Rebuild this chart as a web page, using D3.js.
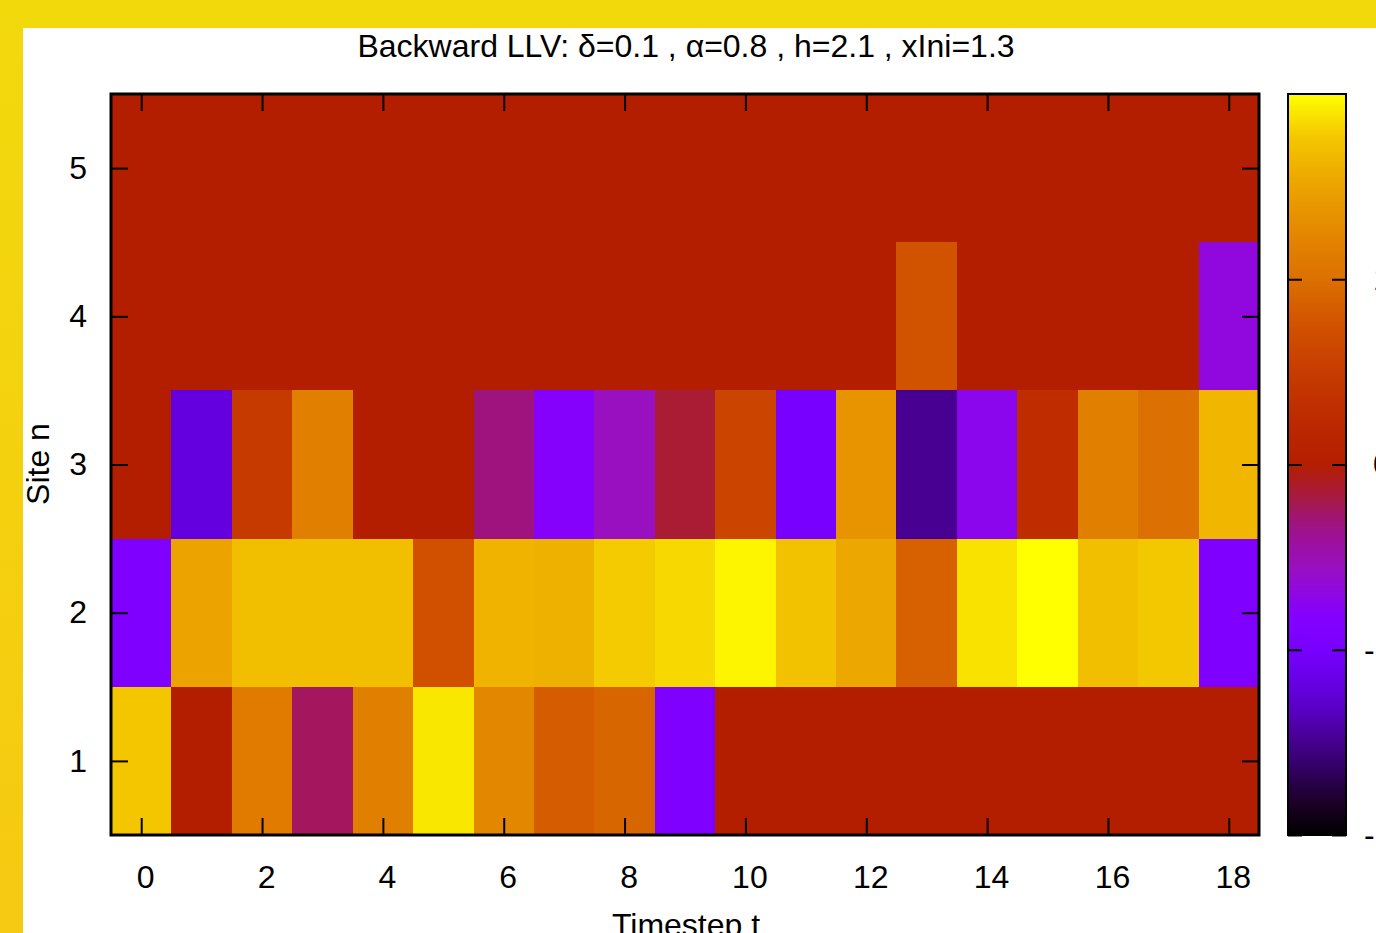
<!DOCTYPE html>
<html>
<head>
<meta charset="utf-8">
<script src="https://cdn.jsdelivr.net/npm/d3@7"></script>
<style>
  html, body { margin: 0; padding: 0; background: #fff; overflow: hidden; }
  svg { display: block; font-family: "Liberation Sans", Arial, Helvetica, sans-serif; }
</style>
</head>
<body>
<svg id="chart" width="1376" height="933"></svg>
<script>
// timesteps (columns) and sites (rows)
var timesteps = d3.range(0, 19);
var sites = [1, 2, 3, 4, 5];

// LLV values per site, one entry per timestep
var site1 = [1.76, 0, 1.12, -0.24, 1.16, 1.9, 1.24, 0.84, 0.92, -0.88, 0, 0, 0, 0, 0, 0, 0, 0, 0];
var site2 = [-0.88, 1.5, 1.7, 1.7, 1.7, 0.74, 1.62, 1.6, 1.78, 1.84, 1.96, 1.72, 1.54, 0.88, 1.88, 2.0, 1.7, 1.77, -0.88];
var site3 = [0, -1.2, 0.48, 1.16, 0, 0, -0.32, -0.8, -0.56, -0.14, 0.6, -1.0, 1.36, -1.48, -0.74, 0.28, 1.16, 1.0, 1.64];
var site4 = [0, 0, 0, 0, 0, 0, 0, 0, 0, 0, 0, 0, 0, 0.76, 0, 0, 0, 0, -0.68];
var site5 = [0, 0, 0, 0, 0, 0, 0, 0, 0, 0, 0, 0, 0, 0, 0, 0, 0, 0, 0];
var siteValues = [site1, site2, site3, site4, site5];

var xTicks = [0, 2, 4, 6, 8, 10, 12, 14, 16, 18];
var yTicks = [1, 2, 3, 4, 5];
var cbTicks = [-2, -1, 0, 1];
var cbRange = [-2, 2];

// palette (position 0..1 along the colour box)
var palPos = [0, 0.036, 0.07, 0.1, 0.134, 0.166, 0.2, 0.25, 0.296, 0.328, 0.36, 0.393, 0.425, 0.457, 0.5, 0.554, 0.619, 0.684, 0.75, 0.813, 0.877, 0.943, 1];
var palCol = ["#000000", "#180020", "#280048", "#380070", "#4a0098", "#5800c0", "#6400e0", "#7800ff", "#8400ff", "#9008e0", "#9810c0", "#9c10a0", "#a01478", "#a81a40", "#b41e00", "#bc2800", "#c63a00", "#d05000", "#dc7000", "#e48800", "#eca400", "#f4c800", "#ffff00"];

var svg = d3.select("#chart");
var W = 1376, H = 933;
var plot = {left: 111, right: 1259, top: 94, bottom: 835};
var cb = {left: 1288, right: 1346};

// yellow frame
svg.append("rect").attr("x", 0).attr("y", 0).attr("width", W).attr("height", 28).attr("fill", "#f1d90c");
var grad0 = svg.append("defs").append("linearGradient").attr("id", "sideGrad")
    .attr("x1", 0).attr("y1", 0).attr("x2", 0).attr("y2", 1);
grad0.append("stop").attr("offset", 0).attr("stop-color", "#f2d90c");
grad0.append("stop").attr("offset", 1).attr("stop-color", "#f6c912");
svg.append("rect").attr("x", 0).attr("y", 0).attr("width", 23).attr("height", H).attr("fill", "url(#sideGrad)");

var x = d3.scaleLinear().domain([-0.5, 18.5]).range([plot.left, plot.right]);
var y = d3.scaleLinear().domain([0.5, 5.5]).range([plot.bottom, plot.top]);
var color = d3.scaleLinear()
    .domain(palPos.map(function(p){ return cbRange[0] + p * (cbRange[1] - cbRange[0]); }))
    .range(palCol)
    .clamp(true);

// cells
var cells = [];
siteValues.forEach(function(row, i){
    row.forEach(function(v, j){
        cells.push({t: timesteps[j], n: sites[i], v: v});
    });
});
svg.append("g").selectAll("rect").data(cells).join("rect")
    .attr("x", function(d){ return x(d.t - 0.5); })
    .attr("y", function(d){ return y(d.n + 0.5); })
    .attr("width", function(d){ return x(d.t + 0.5) - x(d.t - 0.5); })
    .attr("height", function(d){ return y(d.n - 0.5) - y(d.n + 0.5); })
    .attr("fill", function(d){ return color(d.v); })
    .attr("shape-rendering", "crispEdges");

var fontSize = 32;

function styleAxis(g){
    g.select(".domain").remove();
    g.selectAll(".tick line").attr("stroke", "#000").attr("stroke-width", 2);
    g.selectAll(".tick text").attr("font-size", fontSize).attr("fill", "#000")
        .attr("font-family", "\"Liberation Sans\", Arial, sans-serif");
}

svg.append("g").attr("transform", "translate(0," + plot.bottom + ")")
    .call(d3.axisBottom(x).tickValues(xTicks).tickFormat(d3.format("d")).tickSize(-17).tickPadding(30))
    .call(styleAxis)
    .selectAll(".tick text").attr("dx", 4);
svg.append("g").attr("transform", "translate(0," + plot.top + ")")
    .call(d3.axisTop(x).tickValues(xTicks).tickSize(-17).tickFormat(""))
    .call(styleAxis);
svg.append("g").attr("transform", "translate(" + plot.left + ",0)")
    .call(d3.axisLeft(y).tickValues(yTicks).tickFormat(d3.format("d")).tickSize(-17).tickPadding(24))
    .call(styleAxis);
svg.append("g").attr("transform", "translate(" + plot.right + ",0)")
    .call(d3.axisRight(y).tickValues(yTicks).tickSize(-17).tickFormat(""))
    .call(styleAxis);

svg.append("rect")
    .attr("x", plot.left).attr("y", plot.top)
    .attr("width", plot.right - plot.left).attr("height", plot.bottom - plot.top)
    .attr("fill", "none").attr("stroke", "#000").attr("stroke-width", 3);

// colour box
var cbY = d3.scaleLinear().domain(cbRange).range([plot.bottom, plot.top]);
var grad = svg.select("defs").append("linearGradient").attr("id", "cbGrad")
    .attr("x1", 0).attr("y1", 1).attr("x2", 0).attr("y2", 0);
grad.selectAll("stop").data(palPos).join("stop")
    .attr("offset", function(d){ return d; })
    .attr("stop-color", function(d, i){ return palCol[i]; });
svg.append("rect")
    .attr("x", cb.left).attr("y", plot.top)
    .attr("width", cb.right - cb.left).attr("height", plot.bottom - plot.top)
    .attr("fill", "url(#cbGrad)").attr("stroke", "#000").attr("stroke-width", 2);

svg.append("g").attr("transform", "translate(" + cb.left + ",0)")
    .call(d3.axisLeft(cbY).tickValues(cbTicks).tickSize(-14).tickFormat(""))
    .call(styleAxis);
// labels run past the right edge of the picture, as in the original
svg.append("g").attr("transform", "translate(" + cb.right + ",0)")
    .call(d3.axisRight(cbY).tickValues(cbTicks).tickSize(-14).tickFormat(function(d){ return (d < 0 ? "-" : "\u00a0") + Math.abs(d); }).tickPadding(18))
    .call(styleAxis);

// titles
svg.append("text")
    .attr("x", 686).attr("y", 57)
    .attr("text-anchor", "middle").attr("font-size", fontSize)
    .text("Backward LLV: \u03b4=0.1 , \u03b1=0.8 , h=2.1 , xIni=1.3");
svg.append("text")
    .attr("transform", "translate(49,464) rotate(-90)")
    .attr("text-anchor", "middle").attr("font-size", fontSize)
    .text("Site n");
svg.append("text")
    .attr("x", 686).attr("y", 936)
    .attr("text-anchor", "middle").attr("font-size", fontSize)
    .text("Timestep t");
</script>
</body>
</html>
